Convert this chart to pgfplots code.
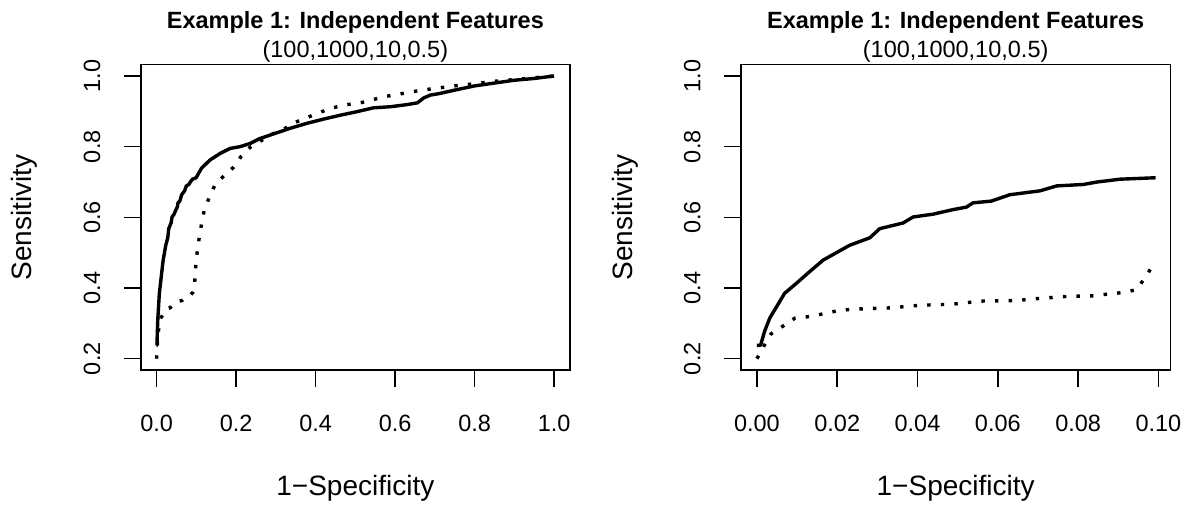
\documentclass[border=0pt]{standalone}
\usepackage{fontspec}
\setmainfont{Liberation Sans}
\usepackage{pgfplots}
\pgfplotsset{compat=1.18}
\usepackage{pgfplotstable}

\pgfplotstableread{
x y
0 0.2375
0.0009 0.2375
0.0019 0.277
0.0032 0.315
0.0049 0.347
0.0069 0.385
0.0098 0.413
0.0131 0.446
0.0165 0.479
0.0198 0.500
0.0231 0.521
0.0281 0.542
0.0306 0.568
0.0364 0.584
0.0389 0.601
0.0439 0.609
0.0489 0.622
0.0522 0.629
0.0538 0.641
0.0584 0.646
0.0630 0.664
0.0705 0.675
0.0747 0.689
0.0813 0.693
0.0847 0.700
0.0905 0.708
0.0993 0.712
0.113 0.739
0.134 0.762
0.160 0.781
0.185 0.795
0.21 0.800
0.235 0.809
0.26 0.823
0.294 0.836
0.336 0.852
0.378 0.866
0.42 0.878
0.462 0.889
0.504 0.899
0.546 0.910
0.588 0.913
0.630 0.919
0.656 0.924
0.672 0.938
0.689 0.946
0.71 0.950
0.75 0.960
0.8 0.972
0.85 0.980
0.9 0.988
0.95 0.993
1.0 1.0
}\solidtab

\pgfplotstableread{
x y
0 0.200
0.0018 0.237
0.0035 0.270
0.0066 0.293
0.0095 0.315
0.013 0.319
0.0165 0.327
0.0198 0.335
0.0236 0.340
0.0306 0.343
0.0342 0.344
0.0377 0.349
0.0448 0.353
0.0484 0.354
0.0519 0.358
0.0555 0.363
0.0625 0.364
0.066 0.366
0.0698 0.370
0.0733 0.373
0.0768 0.376
0.0839 0.378
0.0875 0.383
0.091 0.387
0.0945 0.395
0.0966 0.428
0.0985 0.462
0.102 0.501
0.107 0.541
0.113 0.581
0.120 0.621
0.133 0.658
0.147 0.692
0.170 0.718
0.194 0.742
0.213 0.773
0.235 0.798
0.26 0.815
0.29 0.835
0.319 0.849
0.347 0.868
0.378 0.882
0.408 0.896
0.438 0.908
0.470 0.918
0.504 0.922
0.536 0.930
0.569 0.941
0.603 0.947
0.635 0.954
0.668 0.960
0.702 0.965
0.75 0.972
0.8 0.978
0.85 0.985
0.9 0.990
0.95 0.995
1.0 1.0
}\dottedtab

\begin{document}
\begin{tikzpicture}
\path[use as bounding box] (0,0) rectangle (1193pt,510pt);
\pgfplotsset{
  rocaxis/.style={
    scale only axis, width=429.3pt, height=305.3pt, anchor=south west,
    ymin=0.168, ymax=1.032,
    ytick={0.2,0.4,0.6,0.8,1.0}, yticklabels={0.2,0.4,0.6,0.8,1.0},
    tick pos=left, tick align=outside, major tick length=16.7pt,
    major tick style={line width=1.6pt, black},
    axis line style={line width=1.6pt},
    tick label style={font=\fontsize{23.5}{27}\selectfont},
    xticklabel style={anchor=base, yshift=-45pt},
    yticklabel style={xshift=-24pt, rotate=90, anchor=base},
    label style={font=\fontsize{28}{32}\selectfont},
    xlabel={1−Specificity},
    xlabel style={at={(0.5,0)}, anchor=base, yshift=-126pt},
    ylabel={Sensitivity},
    ylabel style={at={(-0.2539,0.5)}, anchor=base},
    title={Example 1: Independent Features},
    title style={font=\fontsize{23.5}{27}\selectfont\bfseries, anchor=base, at={(0.5,1)}, yshift=29.7pt},
    extra description/.code={\node[anchor=base, font=\fontsize{23.5}{27}\selectfont] at (0.5,1) [yshift=7pt] {(100,1000,10,0.5)};},
  },
  solidline/.style={black, line width=3.4pt, line join=round},
  dottedline/.style={black, line width=3.4pt, dash pattern=on 3.4pt off 10.2pt},
}
\begin{axis}[rocaxis, at={(140.7pt,140pt)},
  xmin=-0.04, xmax=1.04,
  xtick={0,0.2,0.4,0.6,0.8,1.0}, xticklabels={0.0,0.2,0.4,0.6,0.8,1.0}]
\addplot[solidline] table[x=x,y=y] {\solidtab};
\addplot[dottedline] table[x=x,y=y] {\dottedtab};
\end{axis}
\begin{axis}[rocaxis, at={(741pt,140pt)},
  xmin=-0.00396, xmax=0.10296,
  xtick={0,0.02,0.04,0.06,0.08,0.10}, xticklabels={0.00,0.02,0.04,0.06,0.08,0.10}]
\addplot[solidline, restrict x to domain=0:0.1] table[x=x,y=y] {\solidtab};
\addplot[dottedline, restrict x to domain=0:0.1] table[x=x,y=y] {\dottedtab};
\end{axis}
\end{tikzpicture}
\end{document}
